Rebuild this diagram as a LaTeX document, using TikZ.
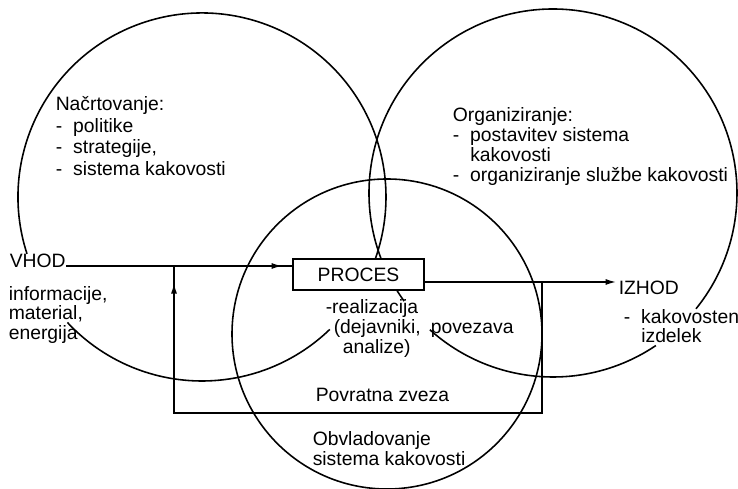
\documentclass[tikz,border=0pt]{standalone}
\usepackage{fontspec}
\setmainfont{Liberation Sans}
\usetikzlibrary{arrows.meta,decorations.markings}

\newcommand\alineja{-\hspace{0.22cm}}
\newcommand\zamik{\hspace*{0.35cm}}

\tikzset{
	besedilo/.style={align=left, inner sep=0pt, anchor=north west},
	napis/.style={inner sep=0pt, anchor=base west},
	konica/.tip={Latex[length=6pt, width=3.4pt]},
	puscica/.style={postaction={decorate}, decoration={markings, mark=at position #1 with {\arrow{konica}}}},
}

\begin{document}
\begin{tikzpicture}[x=0.2mm, y=-0.2mm, line width=0.9pt, font=\fontsize{11}{11.5}\selectfont]
		\useasboundingbox (0,0) rectangle (738,489);

		\draw ([shift={(-198:184)}]202,197) arc[start angle=-198, end angle=25, radius=184];
		\draw ([shift={(46:184)}]202,197) arc[start angle=46, end angle=137, radius=184];
		\draw ([shift={(-216:184)}]553,193) arc[start angle=-216, end angle=39, radius=184];
		\draw ([shift={(56:184)}]553,193) arc[start angle=56, end angle=132, radius=184];
		\draw (387,334) circle[radius=155];

		\node[draw, fill=white, minimum width=2.62cm, minimum height=0.62cm, inner sep=0pt] (proces) at (358.5,274.5) {PROCES};
		\node[besedilo, font=\fontsize{11}{12.2}\selectfont] (nacrt) at (55,96) {Načrtovanje:\\\alineja politike\\\alineja strategije,\\\alineja sistema kakovosti};
		\node[besedilo, font=\fontsize{11}{11.4}\selectfont] (organ) at (452,107) {Organiziranje:\\\alineja postavitev sistema\\\zamik kakovosti\\\alineja organiziranje službe kakovosti};
		\node[napis] (vhod) at (9,268) {VHOD};
		\node[besedilo, font=\fontsize{11}{10.9}\selectfont] (vhodvsebina) at (8,286) {informacije,\\material,\\energija};
		\node[napis] (izhod) at (618,295) {IZHOD};
		\node[besedilo, font=\fontsize{11}{10.8}\selectfont] (izhodvsebina) at (623,309) {\alineja kakovosten\\\zamik izdelek};
		\node[besedilo, font=\fontsize{11}{10.2}\selectfont] (realiz) at (325,299) {-realizacija\\\hspace*{0.16cm}(dejavniki,\hspace{0.2cm}povezava\\\hspace*{0.34cm}analize)};
		\node[napis] (povratna) at (315,402) {Povratna zveza};
		\node[besedilo, font=\fontsize{11}{11}\selectfont] (obvlad) at (312,431) {Obvladovanje\\sistema kakovosti};

		\coordinate (vhodJ) at (174,266);
		\coordinate (izhodJ) at (542,282);
		\coordinate (zvezaL) at (174,413);
		\coordinate (zvezaD) at (542,413);

		\draw[puscica=-0.2cm] (vhod.east |- vhodJ) -- (proces.west |- vhodJ);
		\draw[-{konica}, shorten >=1pt] (proces.east |- izhodJ) -- (izhod.west |- izhodJ);
		\draw[puscica=-0.34cm] (izhodJ) -- (zvezaD) -- (zvezaL) -- (vhodJ);
	\end{tikzpicture}
\end{document}
